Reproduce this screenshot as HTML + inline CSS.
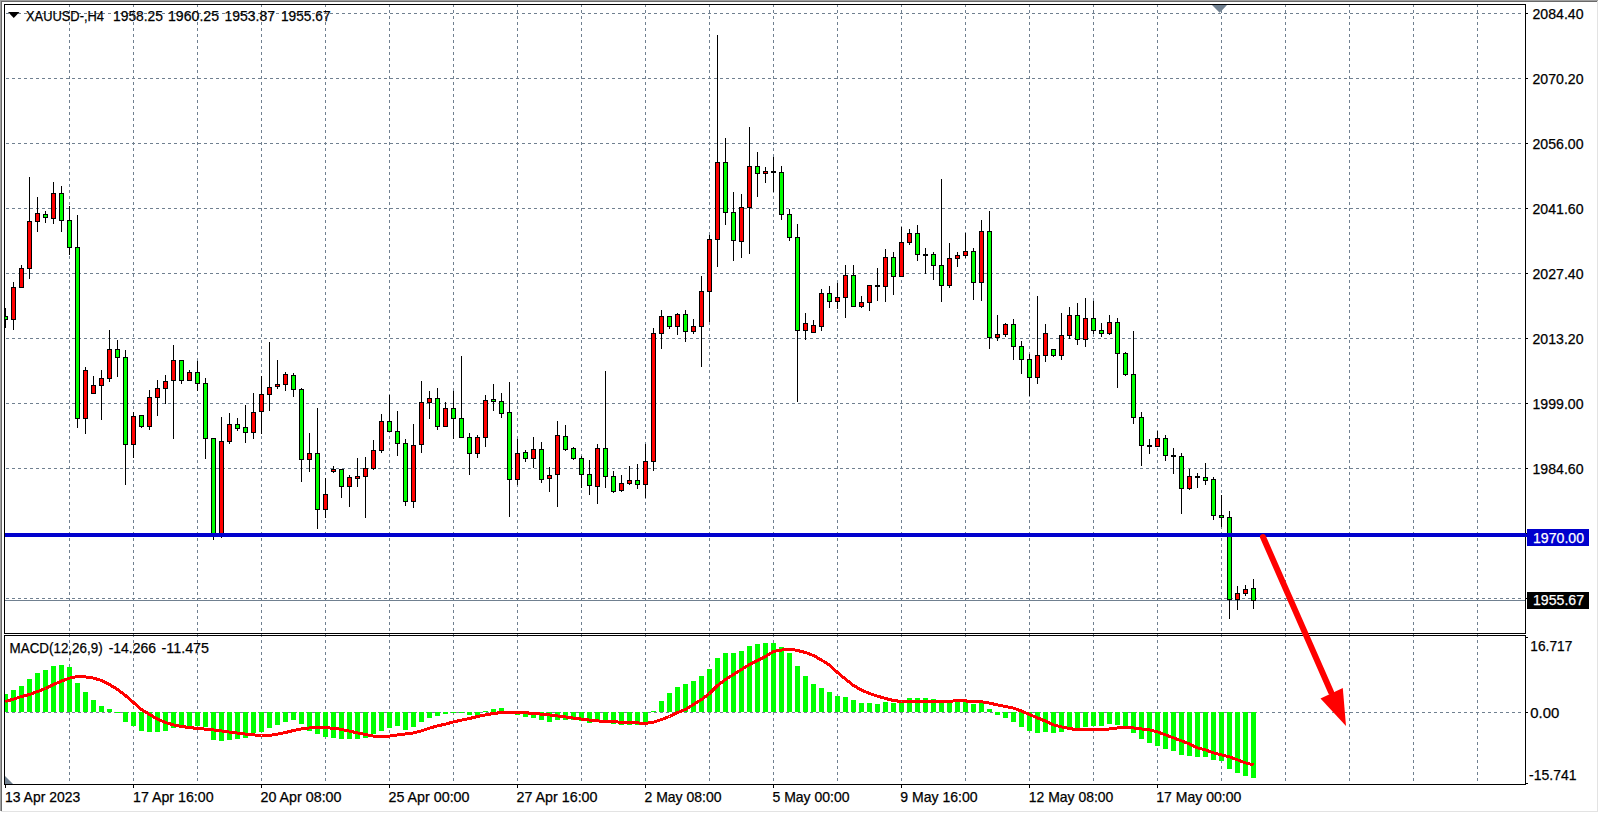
<!DOCTYPE html><html><head><meta charset="utf-8"><style>html,body{margin:0;padding:0;background:#fff;overflow:hidden;width:1599px;height:813px}svg{display:block}text{font-family:"Liberation Sans",sans-serif;font-size:14.5px;fill:#000;stroke:#000;stroke-width:0.25px}</style></head><body>
<svg width="1599" height="813" viewBox="0 0 1599 813">
<rect x="0" y="0" width="1599" height="813" fill="#fff"/>
<g shape-rendering="crispEdges">
<rect x="0" y="0" width="1598" height="1" fill="#a0a0a0"/>
<rect x="0" y="0" width="1" height="811" fill="#a0a0a0"/>
<rect x="1" y="1" width="1596" height="1" fill="#696969"/>
<rect x="1" y="1" width="1" height="810" fill="#696969"/>
<rect x="1597" y="1" width="1" height="811" fill="#e3e3e3"/>
<rect x="1" y="811" width="1597" height="1" fill="#e3e3e3"/>
</g>
<g stroke="#708090" stroke-width="1" stroke-dasharray="3 3" shape-rendering="crispEdges" fill="none">
<line x1="6" y1="13.5" x2="1521" y2="13.5"/>
<line x1="6" y1="78.5" x2="1521" y2="78.5"/>
<line x1="6" y1="143.5" x2="1521" y2="143.5"/>
<line x1="6" y1="208.5" x2="1521" y2="208.5"/>
<line x1="6" y1="273.5" x2="1521" y2="273.5"/>
<line x1="6" y1="338.5" x2="1521" y2="338.5"/>
<line x1="6" y1="403.5" x2="1521" y2="403.5"/>
<line x1="6" y1="468.5" x2="1521" y2="468.5"/>
<line x1="6" y1="533.5" x2="1521" y2="533.5"/>
<line x1="6" y1="598.5" x2="1521" y2="598.5"/>
<line x1="6" y1="712.5" x2="1521" y2="712.5"/>
<line x1="69.5" y1="4" x2="69.5" y2="633"/>
<line x1="69.5" y1="634" x2="69.5" y2="784"/>
<line x1="133.5" y1="4" x2="133.5" y2="633"/>
<line x1="133.5" y1="634" x2="133.5" y2="784"/>
<line x1="197.5" y1="4" x2="197.5" y2="633"/>
<line x1="197.5" y1="634" x2="197.5" y2="784"/>
<line x1="261.5" y1="4" x2="261.5" y2="633"/>
<line x1="261.5" y1="634" x2="261.5" y2="784"/>
<line x1="325.5" y1="4" x2="325.5" y2="633"/>
<line x1="325.5" y1="634" x2="325.5" y2="784"/>
<line x1="389.5" y1="4" x2="389.5" y2="633"/>
<line x1="389.5" y1="634" x2="389.5" y2="784"/>
<line x1="453.5" y1="4" x2="453.5" y2="633"/>
<line x1="453.5" y1="634" x2="453.5" y2="784"/>
<line x1="517.5" y1="4" x2="517.5" y2="633"/>
<line x1="517.5" y1="634" x2="517.5" y2="784"/>
<line x1="581.5" y1="4" x2="581.5" y2="633"/>
<line x1="581.5" y1="634" x2="581.5" y2="784"/>
<line x1="645.5" y1="4" x2="645.5" y2="633"/>
<line x1="645.5" y1="634" x2="645.5" y2="784"/>
<line x1="709.5" y1="4" x2="709.5" y2="633"/>
<line x1="709.5" y1="634" x2="709.5" y2="784"/>
<line x1="773.5" y1="4" x2="773.5" y2="633"/>
<line x1="773.5" y1="634" x2="773.5" y2="784"/>
<line x1="837.5" y1="4" x2="837.5" y2="633"/>
<line x1="837.5" y1="634" x2="837.5" y2="784"/>
<line x1="901.5" y1="4" x2="901.5" y2="633"/>
<line x1="901.5" y1="634" x2="901.5" y2="784"/>
<line x1="965.5" y1="4" x2="965.5" y2="633"/>
<line x1="965.5" y1="634" x2="965.5" y2="784"/>
<line x1="1029.5" y1="4" x2="1029.5" y2="633"/>
<line x1="1029.5" y1="634" x2="1029.5" y2="784"/>
<line x1="1093.5" y1="4" x2="1093.5" y2="633"/>
<line x1="1093.5" y1="634" x2="1093.5" y2="784"/>
<line x1="1157.5" y1="4" x2="1157.5" y2="633"/>
<line x1="1157.5" y1="634" x2="1157.5" y2="784"/>
<line x1="1221.5" y1="4" x2="1221.5" y2="633"/>
<line x1="1221.5" y1="634" x2="1221.5" y2="784"/>
<line x1="1285.5" y1="4" x2="1285.5" y2="633"/>
<line x1="1285.5" y1="634" x2="1285.5" y2="784"/>
<line x1="1349.5" y1="4" x2="1349.5" y2="633"/>
<line x1="1349.5" y1="634" x2="1349.5" y2="784"/>
<line x1="1413.5" y1="4" x2="1413.5" y2="633"/>
<line x1="1413.5" y1="634" x2="1413.5" y2="784"/>
<line x1="1477.5" y1="4" x2="1477.5" y2="633"/>
<line x1="1477.5" y1="634" x2="1477.5" y2="784"/>
</g>
<rect x="5" y="600" width="1520" height="1" fill="#708090" shape-rendering="crispEdges"/>
<defs><clipPath id="cm"><rect x="5" y="5" width="1520" height="628"/></clipPath><clipPath id="cd"><rect x="5" y="636" width="1520" height="148"/></clipPath></defs>
<g shape-rendering="crispEdges" clip-path="url(#cm)">
<rect x="5" y="308" width="1" height="20" fill="#000"/>
<rect x="3" y="316" width="5" height="4" fill="#000"/>
<rect x="4" y="317" width="3" height="2" fill="#00ff00"/>
<rect x="13" y="282" width="1" height="48" fill="#000"/>
<rect x="11" y="287" width="5" height="33" fill="#000"/>
<rect x="12" y="288" width="3" height="31" fill="#ff0000"/>
<rect x="21" y="265" width="1" height="23" fill="#000"/>
<rect x="19" y="268" width="5" height="20" fill="#000"/>
<rect x="20" y="269" width="3" height="18" fill="#ff0000"/>
<rect x="29" y="177" width="1" height="102" fill="#000"/>
<rect x="27" y="221" width="5" height="48" fill="#000"/>
<rect x="28" y="222" width="3" height="46" fill="#ff0000"/>
<rect x="37" y="197" width="1" height="35" fill="#000"/>
<rect x="35" y="213" width="5" height="9" fill="#000"/>
<rect x="36" y="214" width="3" height="7" fill="#ff0000"/>
<rect x="45" y="211" width="1" height="12" fill="#000"/>
<rect x="43" y="214" width="5" height="4" fill="#000"/>
<rect x="44" y="215" width="3" height="2" fill="#00ff00"/>
<rect x="53" y="182" width="1" height="42" fill="#000"/>
<rect x="51" y="193" width="5" height="26" fill="#000"/>
<rect x="52" y="194" width="3" height="24" fill="#ff0000"/>
<rect x="61" y="186" width="1" height="46" fill="#000"/>
<rect x="59" y="193" width="5" height="28" fill="#000"/>
<rect x="60" y="194" width="3" height="26" fill="#00ff00"/>
<rect x="69" y="206" width="1" height="49" fill="#000"/>
<rect x="67" y="220" width="5" height="28" fill="#000"/>
<rect x="68" y="221" width="3" height="26" fill="#00ff00"/>
<rect x="77" y="215" width="1" height="213" fill="#000"/>
<rect x="75" y="247" width="5" height="172" fill="#000"/>
<rect x="76" y="248" width="3" height="170" fill="#00ff00"/>
<rect x="85" y="367" width="1" height="67" fill="#000"/>
<rect x="83" y="370" width="5" height="49" fill="#000"/>
<rect x="84" y="371" width="3" height="47" fill="#ff0000"/>
<rect x="93" y="376" width="1" height="18" fill="#000"/>
<rect x="91" y="385" width="5" height="9" fill="#000"/>
<rect x="92" y="386" width="3" height="7" fill="#ff0000"/>
<rect x="101" y="370" width="1" height="50" fill="#000"/>
<rect x="99" y="378" width="5" height="8" fill="#000"/>
<rect x="100" y="379" width="3" height="6" fill="#ff0000"/>
<rect x="109" y="330" width="1" height="52" fill="#000"/>
<rect x="107" y="349" width="5" height="30" fill="#000"/>
<rect x="108" y="350" width="3" height="28" fill="#ff0000"/>
<rect x="117" y="340" width="1" height="37" fill="#000"/>
<rect x="115" y="349" width="5" height="9" fill="#000"/>
<rect x="116" y="350" width="3" height="7" fill="#00ff00"/>
<rect x="125" y="350" width="1" height="135" fill="#000"/>
<rect x="123" y="357" width="5" height="88" fill="#000"/>
<rect x="124" y="358" width="3" height="86" fill="#00ff00"/>
<rect x="133" y="412" width="1" height="46" fill="#000"/>
<rect x="131" y="416" width="5" height="29" fill="#000"/>
<rect x="132" y="417" width="3" height="27" fill="#ff0000"/>
<rect x="141" y="415" width="1" height="13" fill="#000"/>
<rect x="139" y="415" width="5" height="12" fill="#000"/>
<rect x="140" y="416" width="3" height="10" fill="#00ff00"/>
<rect x="149" y="390" width="1" height="40" fill="#000"/>
<rect x="147" y="397" width="5" height="30" fill="#000"/>
<rect x="148" y="398" width="3" height="28" fill="#ff0000"/>
<rect x="157" y="380" width="1" height="36" fill="#000"/>
<rect x="155" y="388" width="5" height="10" fill="#000"/>
<rect x="156" y="389" width="3" height="8" fill="#ff0000"/>
<rect x="165" y="375" width="1" height="29" fill="#000"/>
<rect x="163" y="381" width="5" height="8" fill="#000"/>
<rect x="164" y="382" width="3" height="6" fill="#ff0000"/>
<rect x="173" y="345" width="1" height="94" fill="#000"/>
<rect x="171" y="360" width="5" height="21" fill="#000"/>
<rect x="172" y="361" width="3" height="19" fill="#ff0000"/>
<rect x="181" y="360" width="1" height="24" fill="#000"/>
<rect x="179" y="360" width="5" height="21" fill="#000"/>
<rect x="180" y="361" width="3" height="19" fill="#00ff00"/>
<rect x="189" y="370" width="1" height="11" fill="#000"/>
<rect x="187" y="372" width="5" height="9" fill="#000"/>
<rect x="188" y="373" width="3" height="7" fill="#ff0000"/>
<rect x="197" y="361" width="1" height="30" fill="#000"/>
<rect x="195" y="372" width="5" height="12" fill="#000"/>
<rect x="196" y="373" width="3" height="10" fill="#00ff00"/>
<rect x="205" y="378" width="1" height="81" fill="#000"/>
<rect x="203" y="383" width="5" height="56" fill="#000"/>
<rect x="204" y="384" width="3" height="54" fill="#00ff00"/>
<rect x="213" y="438" width="1" height="102" fill="#000"/>
<rect x="211" y="438" width="5" height="99" fill="#000"/>
<rect x="212" y="439" width="3" height="97" fill="#00ff00"/>
<rect x="221" y="417" width="1" height="121" fill="#000"/>
<rect x="219" y="441" width="5" height="96" fill="#000"/>
<rect x="220" y="442" width="3" height="94" fill="#ff0000"/>
<rect x="229" y="413" width="1" height="31" fill="#000"/>
<rect x="227" y="424" width="5" height="18" fill="#000"/>
<rect x="228" y="425" width="3" height="16" fill="#ff0000"/>
<rect x="237" y="418" width="1" height="13" fill="#000"/>
<rect x="235" y="424" width="5" height="5" fill="#000"/>
<rect x="236" y="425" width="3" height="3" fill="#00ff00"/>
<rect x="245" y="405" width="1" height="38" fill="#000"/>
<rect x="243" y="427" width="5" height="6" fill="#000"/>
<rect x="244" y="428" width="3" height="4" fill="#00ff00"/>
<rect x="253" y="393" width="1" height="46" fill="#000"/>
<rect x="251" y="412" width="5" height="21" fill="#000"/>
<rect x="252" y="413" width="3" height="19" fill="#ff0000"/>
<rect x="261" y="376" width="1" height="58" fill="#000"/>
<rect x="259" y="394" width="5" height="18" fill="#000"/>
<rect x="260" y="395" width="3" height="16" fill="#ff0000"/>
<rect x="269" y="342" width="1" height="69" fill="#000"/>
<rect x="267" y="387" width="5" height="8" fill="#000"/>
<rect x="268" y="388" width="3" height="6" fill="#ff0000"/>
<rect x="277" y="360" width="1" height="29" fill="#000"/>
<rect x="275" y="384" width="5" height="3" fill="#000"/>
<rect x="276" y="385" width="3" height="1" fill="#ff0000"/>
<rect x="285" y="372" width="1" height="19" fill="#000"/>
<rect x="283" y="374" width="5" height="11" fill="#000"/>
<rect x="284" y="375" width="3" height="9" fill="#ff0000"/>
<rect x="293" y="373" width="1" height="24" fill="#000"/>
<rect x="291" y="375" width="5" height="15" fill="#000"/>
<rect x="292" y="376" width="3" height="13" fill="#00ff00"/>
<rect x="301" y="388" width="1" height="94" fill="#000"/>
<rect x="299" y="389" width="5" height="71" fill="#000"/>
<rect x="300" y="390" width="3" height="69" fill="#00ff00"/>
<rect x="309" y="433" width="1" height="39" fill="#000"/>
<rect x="307" y="453" width="5" height="7" fill="#000"/>
<rect x="308" y="454" width="3" height="5" fill="#ff0000"/>
<rect x="317" y="408" width="1" height="121" fill="#000"/>
<rect x="315" y="453" width="5" height="57" fill="#000"/>
<rect x="316" y="454" width="3" height="55" fill="#00ff00"/>
<rect x="325" y="478" width="1" height="40" fill="#000"/>
<rect x="323" y="494" width="5" height="16" fill="#000"/>
<rect x="324" y="495" width="3" height="14" fill="#ff0000"/>
<rect x="333" y="466" width="1" height="7" fill="#000"/>
<rect x="331" y="469" width="5" height="3" fill="#000"/>
<rect x="332" y="470" width="3" height="1" fill="#ff0000"/>
<rect x="341" y="469" width="1" height="29" fill="#000"/>
<rect x="339" y="469" width="5" height="18" fill="#000"/>
<rect x="340" y="470" width="3" height="16" fill="#00ff00"/>
<rect x="349" y="475" width="1" height="32" fill="#000"/>
<rect x="347" y="477" width="5" height="10" fill="#000"/>
<rect x="348" y="478" width="3" height="8" fill="#ff0000"/>
<rect x="357" y="458" width="1" height="29" fill="#000"/>
<rect x="355" y="476" width="5" height="3" fill="#000"/>
<rect x="356" y="477" width="3" height="1" fill="#ff0000"/>
<rect x="365" y="457" width="1" height="61" fill="#000"/>
<rect x="363" y="468" width="5" height="9" fill="#000"/>
<rect x="364" y="469" width="3" height="7" fill="#ff0000"/>
<rect x="373" y="440" width="1" height="30" fill="#000"/>
<rect x="371" y="450" width="5" height="19" fill="#000"/>
<rect x="372" y="451" width="3" height="17" fill="#ff0000"/>
<rect x="381" y="414" width="1" height="39" fill="#000"/>
<rect x="379" y="421" width="5" height="30" fill="#000"/>
<rect x="380" y="422" width="3" height="28" fill="#ff0000"/>
<rect x="389" y="395" width="1" height="37" fill="#000"/>
<rect x="387" y="421" width="5" height="11" fill="#000"/>
<rect x="388" y="422" width="3" height="9" fill="#00ff00"/>
<rect x="397" y="411" width="1" height="45" fill="#000"/>
<rect x="395" y="431" width="5" height="13" fill="#000"/>
<rect x="396" y="432" width="3" height="11" fill="#00ff00"/>
<rect x="405" y="439" width="1" height="67" fill="#000"/>
<rect x="403" y="443" width="5" height="59" fill="#000"/>
<rect x="404" y="444" width="3" height="57" fill="#00ff00"/>
<rect x="413" y="424" width="1" height="84" fill="#000"/>
<rect x="411" y="445" width="5" height="57" fill="#000"/>
<rect x="412" y="446" width="3" height="55" fill="#ff0000"/>
<rect x="421" y="381" width="1" height="72" fill="#000"/>
<rect x="419" y="402" width="5" height="43" fill="#000"/>
<rect x="420" y="403" width="3" height="41" fill="#ff0000"/>
<rect x="429" y="391" width="1" height="28" fill="#000"/>
<rect x="427" y="398" width="5" height="5" fill="#000"/>
<rect x="428" y="399" width="3" height="3" fill="#ff0000"/>
<rect x="437" y="388" width="1" height="42" fill="#000"/>
<rect x="435" y="398" width="5" height="29" fill="#000"/>
<rect x="436" y="399" width="3" height="27" fill="#00ff00"/>
<rect x="445" y="402" width="1" height="25" fill="#000"/>
<rect x="443" y="408" width="5" height="19" fill="#000"/>
<rect x="444" y="409" width="3" height="17" fill="#ff0000"/>
<rect x="453" y="391" width="1" height="48" fill="#000"/>
<rect x="451" y="408" width="5" height="11" fill="#000"/>
<rect x="452" y="409" width="3" height="9" fill="#00ff00"/>
<rect x="461" y="356" width="1" height="82" fill="#000"/>
<rect x="459" y="418" width="5" height="20" fill="#000"/>
<rect x="460" y="419" width="3" height="18" fill="#00ff00"/>
<rect x="469" y="433" width="1" height="42" fill="#000"/>
<rect x="467" y="437" width="5" height="17" fill="#000"/>
<rect x="468" y="438" width="3" height="15" fill="#00ff00"/>
<rect x="477" y="435" width="1" height="23" fill="#000"/>
<rect x="475" y="437" width="5" height="17" fill="#000"/>
<rect x="476" y="438" width="3" height="15" fill="#ff0000"/>
<rect x="485" y="395" width="1" height="52" fill="#000"/>
<rect x="483" y="400" width="5" height="38" fill="#000"/>
<rect x="484" y="401" width="3" height="36" fill="#ff0000"/>
<rect x="493" y="384" width="1" height="27" fill="#000"/>
<rect x="491" y="399" width="5" height="3" fill="#000"/>
<rect x="492" y="400" width="3" height="1" fill="#00ff00"/>
<rect x="501" y="393" width="1" height="25" fill="#000"/>
<rect x="499" y="401" width="5" height="13" fill="#000"/>
<rect x="500" y="402" width="3" height="11" fill="#00ff00"/>
<rect x="509" y="382" width="1" height="135" fill="#000"/>
<rect x="507" y="412" width="5" height="68" fill="#000"/>
<rect x="508" y="413" width="3" height="66" fill="#00ff00"/>
<rect x="517" y="439" width="1" height="46" fill="#000"/>
<rect x="515" y="453" width="5" height="27" fill="#000"/>
<rect x="516" y="454" width="3" height="25" fill="#ff0000"/>
<rect x="525" y="450" width="1" height="12" fill="#000"/>
<rect x="523" y="452" width="5" height="7" fill="#000"/>
<rect x="524" y="453" width="3" height="5" fill="#00ff00"/>
<rect x="533" y="437" width="1" height="31" fill="#000"/>
<rect x="531" y="449" width="5" height="10" fill="#000"/>
<rect x="532" y="450" width="3" height="8" fill="#ff0000"/>
<rect x="541" y="442" width="1" height="41" fill="#000"/>
<rect x="539" y="449" width="5" height="31" fill="#000"/>
<rect x="540" y="450" width="3" height="29" fill="#00ff00"/>
<rect x="549" y="467" width="1" height="25" fill="#000"/>
<rect x="547" y="475" width="5" height="4" fill="#000"/>
<rect x="548" y="476" width="3" height="2" fill="#ff0000"/>
<rect x="557" y="421" width="1" height="86" fill="#000"/>
<rect x="555" y="435" width="5" height="40" fill="#000"/>
<rect x="556" y="436" width="3" height="38" fill="#ff0000"/>
<rect x="565" y="425" width="1" height="26" fill="#000"/>
<rect x="563" y="436" width="5" height="14" fill="#000"/>
<rect x="564" y="437" width="3" height="12" fill="#00ff00"/>
<rect x="573" y="447" width="1" height="13" fill="#000"/>
<rect x="571" y="448" width="5" height="11" fill="#000"/>
<rect x="572" y="449" width="3" height="9" fill="#00ff00"/>
<rect x="581" y="456" width="1" height="32" fill="#000"/>
<rect x="579" y="458" width="5" height="17" fill="#000"/>
<rect x="580" y="459" width="3" height="15" fill="#00ff00"/>
<rect x="589" y="460" width="1" height="35" fill="#000"/>
<rect x="587" y="474" width="5" height="12" fill="#000"/>
<rect x="588" y="475" width="3" height="10" fill="#00ff00"/>
<rect x="597" y="444" width="1" height="60" fill="#000"/>
<rect x="595" y="448" width="5" height="39" fill="#000"/>
<rect x="596" y="449" width="3" height="37" fill="#ff0000"/>
<rect x="605" y="371" width="1" height="117" fill="#000"/>
<rect x="603" y="448" width="5" height="29" fill="#000"/>
<rect x="604" y="449" width="3" height="27" fill="#00ff00"/>
<rect x="613" y="471" width="1" height="22" fill="#000"/>
<rect x="611" y="476" width="5" height="16" fill="#000"/>
<rect x="612" y="477" width="3" height="14" fill="#00ff00"/>
<rect x="621" y="475" width="1" height="17" fill="#000"/>
<rect x="619" y="483" width="5" height="8" fill="#000"/>
<rect x="620" y="484" width="3" height="6" fill="#ff0000"/>
<rect x="629" y="466" width="1" height="19" fill="#000"/>
<rect x="627" y="480" width="5" height="4" fill="#000"/>
<rect x="628" y="481" width="3" height="2" fill="#ff0000"/>
<rect x="637" y="464" width="1" height="25" fill="#000"/>
<rect x="635" y="480" width="5" height="5" fill="#000"/>
<rect x="636" y="481" width="3" height="3" fill="#00ff00"/>
<rect x="645" y="444" width="1" height="54" fill="#000"/>
<rect x="643" y="461" width="5" height="24" fill="#000"/>
<rect x="644" y="462" width="3" height="22" fill="#ff0000"/>
<rect x="653" y="328" width="1" height="143" fill="#000"/>
<rect x="651" y="333" width="5" height="129" fill="#000"/>
<rect x="652" y="334" width="3" height="127" fill="#ff0000"/>
<rect x="661" y="310" width="1" height="39" fill="#000"/>
<rect x="659" y="316" width="5" height="18" fill="#000"/>
<rect x="660" y="317" width="3" height="16" fill="#ff0000"/>
<rect x="669" y="316" width="1" height="13" fill="#000"/>
<rect x="667" y="316" width="5" height="11" fill="#000"/>
<rect x="668" y="317" width="3" height="9" fill="#00ff00"/>
<rect x="677" y="313" width="1" height="22" fill="#000"/>
<rect x="675" y="314" width="5" height="13" fill="#000"/>
<rect x="676" y="315" width="3" height="11" fill="#ff0000"/>
<rect x="685" y="310" width="1" height="32" fill="#000"/>
<rect x="683" y="314" width="5" height="18" fill="#000"/>
<rect x="684" y="315" width="3" height="16" fill="#00ff00"/>
<rect x="693" y="319" width="1" height="15" fill="#000"/>
<rect x="691" y="326" width="5" height="6" fill="#000"/>
<rect x="692" y="327" width="3" height="4" fill="#ff0000"/>
<rect x="701" y="276" width="1" height="91" fill="#000"/>
<rect x="699" y="291" width="5" height="36" fill="#000"/>
<rect x="700" y="292" width="3" height="34" fill="#ff0000"/>
<rect x="709" y="235" width="1" height="87" fill="#000"/>
<rect x="707" y="239" width="5" height="53" fill="#000"/>
<rect x="708" y="240" width="3" height="51" fill="#ff0000"/>
<rect x="717" y="35" width="1" height="232" fill="#000"/>
<rect x="715" y="162" width="5" height="78" fill="#000"/>
<rect x="716" y="163" width="3" height="76" fill="#ff0000"/>
<rect x="725" y="138" width="1" height="87" fill="#000"/>
<rect x="723" y="162" width="5" height="51" fill="#000"/>
<rect x="724" y="163" width="3" height="49" fill="#00ff00"/>
<rect x="733" y="192" width="1" height="69" fill="#000"/>
<rect x="731" y="212" width="5" height="29" fill="#000"/>
<rect x="732" y="213" width="3" height="27" fill="#00ff00"/>
<rect x="741" y="194" width="1" height="64" fill="#000"/>
<rect x="739" y="207" width="5" height="35" fill="#000"/>
<rect x="740" y="208" width="3" height="33" fill="#ff0000"/>
<rect x="749" y="127" width="1" height="127" fill="#000"/>
<rect x="747" y="166" width="5" height="42" fill="#000"/>
<rect x="748" y="167" width="3" height="40" fill="#ff0000"/>
<rect x="757" y="152" width="1" height="45" fill="#000"/>
<rect x="755" y="166" width="5" height="8" fill="#000"/>
<rect x="756" y="167" width="3" height="6" fill="#00ff00"/>
<rect x="765" y="167" width="1" height="16" fill="#000"/>
<rect x="763" y="171" width="5" height="3" fill="#000"/>
<rect x="764" y="172" width="3" height="1" fill="#ff0000"/>
<rect x="773" y="157" width="1" height="35" fill="#000"/>
<rect x="771" y="171" width="5" height="2" fill="#000"/>
<rect x="781" y="166" width="1" height="54" fill="#000"/>
<rect x="779" y="172" width="5" height="43" fill="#000"/>
<rect x="780" y="173" width="3" height="41" fill="#00ff00"/>
<rect x="789" y="209" width="1" height="32" fill="#000"/>
<rect x="787" y="214" width="5" height="24" fill="#000"/>
<rect x="788" y="215" width="3" height="22" fill="#00ff00"/>
<rect x="797" y="224" width="1" height="178" fill="#000"/>
<rect x="795" y="237" width="5" height="94" fill="#000"/>
<rect x="796" y="238" width="3" height="92" fill="#00ff00"/>
<rect x="805" y="313" width="1" height="27" fill="#000"/>
<rect x="803" y="323" width="5" height="8" fill="#000"/>
<rect x="804" y="324" width="3" height="6" fill="#ff0000"/>
<rect x="813" y="320" width="1" height="13" fill="#000"/>
<rect x="811" y="325" width="5" height="8" fill="#000"/>
<rect x="812" y="326" width="3" height="6" fill="#ff0000"/>
<rect x="821" y="289" width="1" height="42" fill="#000"/>
<rect x="819" y="293" width="5" height="34" fill="#000"/>
<rect x="820" y="294" width="3" height="32" fill="#ff0000"/>
<rect x="829" y="286" width="1" height="22" fill="#000"/>
<rect x="827" y="293" width="5" height="9" fill="#000"/>
<rect x="828" y="294" width="3" height="7" fill="#00ff00"/>
<rect x="837" y="283" width="1" height="26" fill="#000"/>
<rect x="835" y="297" width="5" height="5" fill="#000"/>
<rect x="836" y="298" width="3" height="3" fill="#ff0000"/>
<rect x="845" y="265" width="1" height="53" fill="#000"/>
<rect x="843" y="275" width="5" height="23" fill="#000"/>
<rect x="844" y="276" width="3" height="21" fill="#ff0000"/>
<rect x="853" y="265" width="1" height="42" fill="#000"/>
<rect x="851" y="275" width="5" height="32" fill="#000"/>
<rect x="852" y="276" width="3" height="30" fill="#00ff00"/>
<rect x="861" y="296" width="1" height="12" fill="#000"/>
<rect x="859" y="302" width="5" height="5" fill="#000"/>
<rect x="860" y="303" width="3" height="3" fill="#ff0000"/>
<rect x="869" y="285" width="1" height="26" fill="#000"/>
<rect x="867" y="285" width="5" height="18" fill="#000"/>
<rect x="868" y="286" width="3" height="16" fill="#ff0000"/>
<rect x="877" y="268" width="1" height="33" fill="#000"/>
<rect x="875" y="285" width="5" height="2" fill="#000"/>
<rect x="885" y="249" width="1" height="53" fill="#000"/>
<rect x="883" y="257" width="5" height="30" fill="#000"/>
<rect x="884" y="258" width="3" height="28" fill="#ff0000"/>
<rect x="893" y="252" width="1" height="43" fill="#000"/>
<rect x="891" y="257" width="5" height="20" fill="#000"/>
<rect x="892" y="258" width="3" height="18" fill="#00ff00"/>
<rect x="901" y="227" width="1" height="50" fill="#000"/>
<rect x="899" y="242" width="5" height="35" fill="#000"/>
<rect x="900" y="243" width="3" height="33" fill="#ff0000"/>
<rect x="909" y="229" width="1" height="16" fill="#000"/>
<rect x="907" y="233" width="5" height="10" fill="#000"/>
<rect x="908" y="234" width="3" height="8" fill="#ff0000"/>
<rect x="917" y="225" width="1" height="36" fill="#000"/>
<rect x="915" y="233" width="5" height="22" fill="#000"/>
<rect x="916" y="234" width="3" height="20" fill="#00ff00"/>
<rect x="925" y="248" width="1" height="26" fill="#000"/>
<rect x="923" y="254" width="5" height="2" fill="#000"/>
<rect x="933" y="252" width="1" height="28" fill="#000"/>
<rect x="931" y="254" width="5" height="12" fill="#000"/>
<rect x="932" y="255" width="3" height="10" fill="#00ff00"/>
<rect x="941" y="179" width="1" height="123" fill="#000"/>
<rect x="939" y="265" width="5" height="21" fill="#000"/>
<rect x="940" y="266" width="3" height="19" fill="#00ff00"/>
<rect x="949" y="243" width="1" height="45" fill="#000"/>
<rect x="947" y="258" width="5" height="28" fill="#000"/>
<rect x="948" y="259" width="3" height="26" fill="#ff0000"/>
<rect x="957" y="252" width="1" height="15" fill="#000"/>
<rect x="955" y="255" width="5" height="4" fill="#000"/>
<rect x="956" y="256" width="3" height="2" fill="#ff0000"/>
<rect x="965" y="233" width="1" height="25" fill="#000"/>
<rect x="963" y="251" width="5" height="5" fill="#000"/>
<rect x="964" y="252" width="3" height="3" fill="#ff0000"/>
<rect x="973" y="248" width="1" height="52" fill="#000"/>
<rect x="971" y="251" width="5" height="32" fill="#000"/>
<rect x="972" y="252" width="3" height="30" fill="#00ff00"/>
<rect x="981" y="220" width="1" height="81" fill="#000"/>
<rect x="979" y="231" width="5" height="52" fill="#000"/>
<rect x="980" y="232" width="3" height="50" fill="#ff0000"/>
<rect x="989" y="211" width="1" height="138" fill="#000"/>
<rect x="987" y="231" width="5" height="107" fill="#000"/>
<rect x="988" y="232" width="3" height="105" fill="#00ff00"/>
<rect x="997" y="315" width="1" height="26" fill="#000"/>
<rect x="995" y="334" width="5" height="4" fill="#000"/>
<rect x="996" y="335" width="3" height="2" fill="#ff0000"/>
<rect x="1005" y="323" width="1" height="14" fill="#000"/>
<rect x="1003" y="324" width="5" height="11" fill="#000"/>
<rect x="1004" y="325" width="3" height="9" fill="#ff0000"/>
<rect x="1013" y="319" width="1" height="41" fill="#000"/>
<rect x="1011" y="324" width="5" height="23" fill="#000"/>
<rect x="1012" y="325" width="3" height="21" fill="#00ff00"/>
<rect x="1021" y="341" width="1" height="33" fill="#000"/>
<rect x="1019" y="346" width="5" height="14" fill="#000"/>
<rect x="1020" y="347" width="3" height="12" fill="#00ff00"/>
<rect x="1029" y="354" width="1" height="42" fill="#000"/>
<rect x="1027" y="359" width="5" height="19" fill="#000"/>
<rect x="1028" y="360" width="3" height="17" fill="#00ff00"/>
<rect x="1037" y="296" width="1" height="88" fill="#000"/>
<rect x="1035" y="355" width="5" height="23" fill="#000"/>
<rect x="1036" y="356" width="3" height="21" fill="#ff0000"/>
<rect x="1045" y="324" width="1" height="38" fill="#000"/>
<rect x="1043" y="333" width="5" height="23" fill="#000"/>
<rect x="1044" y="334" width="3" height="21" fill="#ff0000"/>
<rect x="1053" y="349" width="1" height="8" fill="#000"/>
<rect x="1051" y="349" width="5" height="7" fill="#000"/>
<rect x="1052" y="350" width="3" height="5" fill="#00ff00"/>
<rect x="1061" y="313" width="1" height="47" fill="#000"/>
<rect x="1059" y="335" width="5" height="21" fill="#000"/>
<rect x="1060" y="336" width="3" height="19" fill="#ff0000"/>
<rect x="1069" y="307" width="1" height="32" fill="#000"/>
<rect x="1067" y="315" width="5" height="21" fill="#000"/>
<rect x="1068" y="316" width="3" height="19" fill="#ff0000"/>
<rect x="1077" y="303" width="1" height="42" fill="#000"/>
<rect x="1075" y="315" width="5" height="25" fill="#000"/>
<rect x="1076" y="316" width="3" height="23" fill="#00ff00"/>
<rect x="1085" y="298" width="1" height="49" fill="#000"/>
<rect x="1083" y="318" width="5" height="22" fill="#000"/>
<rect x="1084" y="319" width="3" height="20" fill="#ff0000"/>
<rect x="1093" y="301" width="1" height="33" fill="#000"/>
<rect x="1091" y="318" width="5" height="13" fill="#000"/>
<rect x="1092" y="319" width="3" height="11" fill="#00ff00"/>
<rect x="1101" y="323" width="1" height="14" fill="#000"/>
<rect x="1099" y="330" width="5" height="4" fill="#000"/>
<rect x="1100" y="331" width="3" height="2" fill="#00ff00"/>
<rect x="1109" y="315" width="1" height="20" fill="#000"/>
<rect x="1107" y="322" width="5" height="12" fill="#000"/>
<rect x="1108" y="323" width="3" height="10" fill="#ff0000"/>
<rect x="1117" y="318" width="1" height="70" fill="#000"/>
<rect x="1115" y="322" width="5" height="32" fill="#000"/>
<rect x="1116" y="323" width="3" height="30" fill="#00ff00"/>
<rect x="1125" y="352" width="1" height="24" fill="#000"/>
<rect x="1123" y="353" width="5" height="22" fill="#000"/>
<rect x="1124" y="354" width="3" height="20" fill="#00ff00"/>
<rect x="1133" y="331" width="1" height="93" fill="#000"/>
<rect x="1131" y="374" width="5" height="44" fill="#000"/>
<rect x="1132" y="375" width="3" height="42" fill="#00ff00"/>
<rect x="1141" y="412" width="1" height="54" fill="#000"/>
<rect x="1139" y="417" width="5" height="29" fill="#000"/>
<rect x="1140" y="418" width="3" height="27" fill="#00ff00"/>
<rect x="1149" y="439" width="1" height="15" fill="#000"/>
<rect x="1147" y="445" width="5" height="2" fill="#000"/>
<rect x="1157" y="431" width="1" height="16" fill="#000"/>
<rect x="1155" y="438" width="5" height="9" fill="#000"/>
<rect x="1156" y="439" width="3" height="7" fill="#ff0000"/>
<rect x="1165" y="435" width="1" height="26" fill="#000"/>
<rect x="1163" y="438" width="5" height="18" fill="#000"/>
<rect x="1164" y="439" width="3" height="16" fill="#00ff00"/>
<rect x="1173" y="448" width="1" height="26" fill="#000"/>
<rect x="1171" y="455" width="5" height="2" fill="#000"/>
<rect x="1181" y="453" width="1" height="61" fill="#000"/>
<rect x="1179" y="456" width="5" height="33" fill="#000"/>
<rect x="1180" y="457" width="3" height="31" fill="#00ff00"/>
<rect x="1189" y="469" width="1" height="21" fill="#000"/>
<rect x="1187" y="476" width="5" height="13" fill="#000"/>
<rect x="1188" y="477" width="3" height="11" fill="#ff0000"/>
<rect x="1197" y="473" width="1" height="15" fill="#000"/>
<rect x="1195" y="476" width="5" height="2" fill="#000"/>
<rect x="1205" y="463" width="1" height="22" fill="#000"/>
<rect x="1203" y="477" width="5" height="4" fill="#000"/>
<rect x="1204" y="478" width="3" height="2" fill="#00ff00"/>
<rect x="1213" y="477" width="1" height="43" fill="#000"/>
<rect x="1211" y="479" width="5" height="37" fill="#000"/>
<rect x="1212" y="480" width="3" height="35" fill="#00ff00"/>
<rect x="1221" y="495" width="1" height="32" fill="#000"/>
<rect x="1219" y="515" width="5" height="3" fill="#000"/>
<rect x="1220" y="516" width="3" height="1" fill="#00ff00"/>
<rect x="1229" y="511" width="1" height="108" fill="#000"/>
<rect x="1227" y="517" width="5" height="83" fill="#000"/>
<rect x="1228" y="518" width="3" height="81" fill="#00ff00"/>
<rect x="1237" y="586" width="1" height="24" fill="#000"/>
<rect x="1235" y="593" width="5" height="7" fill="#000"/>
<rect x="1236" y="594" width="3" height="5" fill="#ff0000"/>
<rect x="1245" y="585" width="1" height="11" fill="#000"/>
<rect x="1243" y="589" width="5" height="5" fill="#000"/>
<rect x="1244" y="590" width="3" height="3" fill="#ff0000"/>
<rect x="1253" y="579" width="1" height="30" fill="#000"/>
<rect x="1251" y="588" width="5" height="13" fill="#000"/>
<rect x="1252" y="589" width="3" height="11" fill="#00ff00"/>
</g>
<rect x="5" y="533" width="1522" height="4" fill="#0000cd" shape-rendering="crispEdges"/>
<g shape-rendering="crispEdges" fill="#00ff00">
<rect x="5" y="694" width="3" height="18"/>
<rect x="11" y="690" width="5" height="22"/>
<rect x="19" y="686" width="5" height="26"/>
<rect x="27" y="679" width="5" height="33"/>
<rect x="35" y="673" width="5" height="39"/>
<rect x="43" y="670" width="5" height="42"/>
<rect x="51" y="666" width="5" height="46"/>
<rect x="59" y="665" width="5" height="47"/>
<rect x="67" y="667" width="5" height="45"/>
<rect x="75" y="683" width="5" height="29"/>
<rect x="83" y="692" width="5" height="20"/>
<rect x="91" y="700" width="5" height="12"/>
<rect x="99" y="706" width="5" height="6"/>
<rect x="107" y="709" width="5" height="3"/>
<rect x="115" y="712" width="5" height="1"/>
<rect x="123" y="712" width="5" height="10"/>
<rect x="131" y="712" width="5" height="14"/>
<rect x="139" y="712" width="5" height="19"/>
<rect x="147" y="712" width="5" height="20"/>
<rect x="155" y="712" width="5" height="20"/>
<rect x="163" y="712" width="5" height="19"/>
<rect x="171" y="712" width="5" height="16"/>
<rect x="179" y="712" width="5" height="15"/>
<rect x="187" y="712" width="5" height="14"/>
<rect x="195" y="712" width="5" height="14"/>
<rect x="203" y="712" width="5" height="15"/>
<rect x="211" y="712" width="5" height="28"/>
<rect x="219" y="712" width="5" height="29"/>
<rect x="227" y="712" width="5" height="28"/>
<rect x="235" y="712" width="5" height="27"/>
<rect x="243" y="712" width="5" height="26"/>
<rect x="251" y="712" width="5" height="21"/>
<rect x="259" y="712" width="5" height="20"/>
<rect x="267" y="712" width="5" height="16"/>
<rect x="275" y="712" width="5" height="13"/>
<rect x="283" y="712" width="5" height="10"/>
<rect x="291" y="712" width="5" height="8"/>
<rect x="299" y="712" width="5" height="12"/>
<rect x="307" y="712" width="5" height="19"/>
<rect x="315" y="712" width="5" height="22"/>
<rect x="323" y="712" width="5" height="25"/>
<rect x="331" y="712" width="5" height="26"/>
<rect x="339" y="712" width="5" height="27"/>
<rect x="347" y="712" width="5" height="27"/>
<rect x="355" y="712" width="5" height="27"/>
<rect x="363" y="712" width="5" height="26"/>
<rect x="371" y="712" width="5" height="22"/>
<rect x="379" y="712" width="5" height="19"/>
<rect x="387" y="712" width="5" height="16"/>
<rect x="395" y="712" width="5" height="14"/>
<rect x="403" y="712" width="5" height="18"/>
<rect x="411" y="712" width="5" height="15"/>
<rect x="419" y="712" width="5" height="10"/>
<rect x="427" y="712" width="5" height="6"/>
<rect x="435" y="712" width="5" height="4"/>
<rect x="443" y="712" width="5" height="2"/>
<rect x="451" y="712" width="5" height="1"/>
<rect x="459" y="712" width="5" height="1"/>
<rect x="467" y="712" width="5" height="3"/>
<rect x="475" y="712" width="5" height="3"/>
<rect x="483" y="711" width="5" height="1"/>
<rect x="491" y="709" width="5" height="3"/>
<rect x="499" y="708" width="5" height="4"/>
<rect x="507" y="711" width="5" height="1"/>
<rect x="515" y="712" width="5" height="3"/>
<rect x="523" y="712" width="5" height="5"/>
<rect x="531" y="712" width="5" height="6"/>
<rect x="539" y="712" width="5" height="8"/>
<rect x="547" y="712" width="5" height="10"/>
<rect x="555" y="712" width="5" height="8"/>
<rect x="563" y="712" width="5" height="8"/>
<rect x="571" y="712" width="5" height="8"/>
<rect x="579" y="712" width="5" height="9"/>
<rect x="587" y="712" width="5" height="11"/>
<rect x="595" y="712" width="5" height="10"/>
<rect x="603" y="712" width="5" height="11"/>
<rect x="611" y="712" width="5" height="12"/>
<rect x="619" y="712" width="5" height="13"/>
<rect x="627" y="712" width="5" height="13"/>
<rect x="635" y="712" width="5" height="13"/>
<rect x="643" y="712" width="5" height="10"/>
<rect x="651" y="711" width="5" height="1"/>
<rect x="659" y="701" width="5" height="11"/>
<rect x="667" y="693" width="5" height="19"/>
<rect x="675" y="687" width="5" height="25"/>
<rect x="683" y="684" width="5" height="28"/>
<rect x="691" y="681" width="5" height="31"/>
<rect x="699" y="676" width="5" height="36"/>
<rect x="707" y="669" width="5" height="43"/>
<rect x="715" y="658" width="5" height="54"/>
<rect x="723" y="653" width="5" height="59"/>
<rect x="731" y="653" width="5" height="59"/>
<rect x="739" y="651" width="5" height="61"/>
<rect x="747" y="646" width="5" height="66"/>
<rect x="755" y="644" width="5" height="68"/>
<rect x="763" y="643" width="5" height="69"/>
<rect x="771" y="643" width="5" height="69"/>
<rect x="779" y="647" width="5" height="65"/>
<rect x="787" y="653" width="5" height="59"/>
<rect x="795" y="666" width="5" height="46"/>
<rect x="803" y="676" width="5" height="36"/>
<rect x="811" y="684" width="5" height="28"/>
<rect x="819" y="688" width="5" height="24"/>
<rect x="827" y="692" width="5" height="20"/>
<rect x="835" y="696" width="5" height="16"/>
<rect x="843" y="697" width="5" height="15"/>
<rect x="851" y="700" width="5" height="12"/>
<rect x="859" y="703" width="5" height="9"/>
<rect x="867" y="703" width="5" height="9"/>
<rect x="875" y="704" width="5" height="8"/>
<rect x="883" y="702" width="5" height="10"/>
<rect x="891" y="703" width="5" height="9"/>
<rect x="899" y="702" width="5" height="10"/>
<rect x="907" y="698" width="5" height="14"/>
<rect x="915" y="698" width="5" height="14"/>
<rect x="923" y="698" width="5" height="14"/>
<rect x="931" y="699" width="5" height="13"/>
<rect x="939" y="701" width="5" height="11"/>
<rect x="947" y="702" width="5" height="10"/>
<rect x="955" y="702" width="5" height="10"/>
<rect x="963" y="702" width="5" height="10"/>
<rect x="971" y="704" width="5" height="8"/>
<rect x="979" y="703" width="5" height="9"/>
<rect x="987" y="709" width="5" height="3"/>
<rect x="995" y="712" width="5" height="3"/>
<rect x="1003" y="712" width="5" height="6"/>
<rect x="1011" y="712" width="5" height="10"/>
<rect x="1019" y="712" width="5" height="15"/>
<rect x="1027" y="712" width="5" height="19"/>
<rect x="1035" y="712" width="5" height="21"/>
<rect x="1043" y="712" width="5" height="20"/>
<rect x="1051" y="712" width="5" height="21"/>
<rect x="1059" y="712" width="5" height="20"/>
<rect x="1067" y="712" width="5" height="16"/>
<rect x="1075" y="712" width="5" height="16"/>
<rect x="1083" y="712" width="5" height="15"/>
<rect x="1091" y="712" width="5" height="14"/>
<rect x="1099" y="712" width="5" height="14"/>
<rect x="1107" y="712" width="5" height="12"/>
<rect x="1115" y="712" width="5" height="13"/>
<rect x="1123" y="712" width="5" height="14"/>
<rect x="1131" y="712" width="5" height="21"/>
<rect x="1139" y="712" width="5" height="27"/>
<rect x="1147" y="712" width="5" height="31"/>
<rect x="1155" y="712" width="5" height="34"/>
<rect x="1163" y="712" width="5" height="37"/>
<rect x="1171" y="712" width="5" height="39"/>
<rect x="1179" y="712" width="5" height="43"/>
<rect x="1187" y="712" width="5" height="44"/>
<rect x="1195" y="712" width="5" height="45"/>
<rect x="1203" y="712" width="5" height="45"/>
<rect x="1211" y="712" width="5" height="48"/>
<rect x="1219" y="712" width="5" height="49"/>
<rect x="1227" y="712" width="5" height="57"/>
<rect x="1235" y="712" width="5" height="61"/>
<rect x="1243" y="712" width="5" height="64"/>
<rect x="1251" y="712" width="5" height="66"/>
</g>
<svg x="5" y="636" width="1520" height="148" viewBox="5 636 1520 148" overflow="hidden"><polyline points="5.5,701.5 13.5,699.1 21.5,696.5 29.5,694.5 37.5,691.5 45.5,688.5 53.5,684.5 61.5,681.1 69.5,678.1 77.5,676.5 85.5,676.9 93.5,678.1 101.5,680.5 109.5,684.5 117.5,689.5 125.5,695.5 133.5,702.5 141.5,709.5 149.5,714.5 157.5,719.1 165.5,722.5 173.5,724.9 181.5,726.5 189.5,727.5 197.5,728.5 205.5,729.1 213.5,729.9 221.5,730.9 229.5,732.1 237.5,733.1 245.5,734.1 253.5,734.9 261.5,735.5 269.5,735.5 277.5,734.1 285.5,732.5 293.5,730.5 301.5,728.9 309.5,727.9 317.5,727.9 325.5,727.9 333.5,728.1 341.5,729.5 349.5,731.1 357.5,732.9 365.5,734.5 373.5,736.1 381.5,736.9 389.5,736.1 397.5,734.9 405.5,733.9 413.5,732.9 421.5,730.9 429.5,728.1 437.5,725.9 445.5,724.1 453.5,721.9 461.5,720.1 469.5,718.5 477.5,716.5 485.5,714.9 493.5,713.5 501.5,712.5 509.5,712.5 517.5,712.5 525.5,712.7 533.5,713.5 541.5,714.1 549.5,714.9 557.5,715.9 565.5,716.9 573.5,718.1 581.5,719.1 589.5,720.1 597.5,720.9 605.5,721.5 613.5,721.9 621.5,722.1 629.5,722.9 637.5,722.9 645.5,723.5 653.5,722.1 661.5,719.5 669.5,716.5 677.5,712.5 685.5,709.5 693.5,704.5 701.5,699.5 709.5,693.5 717.5,685.5 725.5,679.5 733.5,674.5 741.5,669.5 749.5,664.5 757.5,660.5 765.5,656.5 773.5,651.5 781.5,650.1 789.5,649.1 797.5,650.5 805.5,652.5 813.5,655.5 821.5,660.1 829.5,665.1 837.5,672.5 845.5,679.1 853.5,685.5 861.5,690.1 869.5,693.5 877.5,696.1 885.5,698.5 893.5,700.5 901.5,701.5 909.5,701.5 917.5,701.5 925.5,701.5 933.5,701.5 941.5,701.5 949.5,701.1 957.5,700.9 965.5,700.9 973.5,701.7 981.5,701.7 989.5,703.1 997.5,704.9 1005.5,706.5 1013.5,708.1 1021.5,711.1 1029.5,714.5 1037.5,717.9 1045.5,721.1 1053.5,724.9 1061.5,726.9 1069.5,728.5 1077.5,729.9 1085.5,729.9 1093.5,729.9 1101.5,729.9 1109.5,728.9 1117.5,727.9 1125.5,727.1 1133.5,727.9 1141.5,728.9 1149.5,729.9 1157.5,731.9 1165.5,734.9 1173.5,737.9 1181.5,740.9 1189.5,743.9 1197.5,747.9 1205.5,749.9 1213.5,752.9 1221.5,754.9 1229.5,756.9 1237.5,759.9 1245.5,762.9 1253.5,764.9" fill="none" stroke="#ff0000" stroke-width="3" stroke-linejoin="round" shape-rendering="crispEdges"/></svg>
<g shape-rendering="crispEdges" fill="#000">
<rect x="4" y="4" width="1522" height="1"/>
<rect x="4" y="633" width="1522" height="1"/>
<rect x="4" y="4" width="1" height="630"/>
<rect x="1525" y="4" width="1" height="630"/>
<rect x="4" y="635" width="1522" height="1"/>
<rect x="4" y="784" width="1522" height="1"/>
<rect x="4" y="635" width="1" height="150"/>
<rect x="1525" y="635" width="1" height="150"/>
<rect x="1526" y="13" width="2" height="1"/>
<rect x="1526" y="78" width="2" height="1"/>
<rect x="1526" y="143" width="2" height="1"/>
<rect x="1526" y="208" width="2" height="1"/>
<rect x="1526" y="273" width="2" height="1"/>
<rect x="1526" y="338" width="2" height="1"/>
<rect x="1526" y="403" width="2" height="1"/>
<rect x="1526" y="468" width="2" height="1"/>
<rect x="1526" y="598" width="2" height="1"/>
<rect x="1526" y="637" width="2" height="1"/>
<rect x="1526" y="712" width="2" height="1"/>
<rect x="1526" y="783" width="2" height="1"/>
<rect x="5" y="785" width="1" height="3"/>
<rect x="133" y="785" width="1" height="3"/>
<rect x="261" y="785" width="1" height="3"/>
<rect x="389" y="785" width="1" height="3"/>
<rect x="517" y="785" width="1" height="3"/>
<rect x="645" y="785" width="1" height="3"/>
<rect x="773" y="785" width="1" height="3"/>
<rect x="901" y="785" width="1" height="3"/>
<rect x="1029" y="785" width="1" height="3"/>
<rect x="1157" y="785" width="1" height="3"/>
</g>
<rect x="1525" y="533" width="2" height="4" fill="#0000cd" shape-rendering="crispEdges"/>
<rect x="1526" y="533" width="1" height="1" fill="#000" shape-rendering="crispEdges"/>
<polygon points="1212,5 1227,5 1219.7,12.8" fill="#708090"/>
<polygon points="5,776 5,784 13,784" fill="#708090"/>
<polygon points="8,12 19.5,12 13.75,18" fill="#000"/>
<g fill="#ff0000" stroke="none">
<line x1="1263" y1="537" x2="1331" y2="692" stroke="#ff0000" stroke-width="6" stroke-linecap="round"/>
<polygon points="1346,726 1320.5,698.5 1342.8,688"/>
</g>
<rect x="1527" y="529" width="62" height="17" fill="#0000cd" shape-rendering="crispEdges"/>
<rect x="1527" y="592" width="62" height="17" fill="#000" shape-rendering="crispEdges"/>
<text x="26" y="21" textLength="78" lengthAdjust="spacingAndGlyphs">XAUUSD-,H4</text>
<text x="113" y="21" textLength="50" lengthAdjust="spacingAndGlyphs">1958.25</text>
<text x="168" y="21" textLength="51" lengthAdjust="spacingAndGlyphs">1960.25</text>
<text x="224.5" y="21" textLength="50.5" lengthAdjust="spacingAndGlyphs">1953.87</text>
<text x="281" y="21" textLength="49.5" lengthAdjust="spacingAndGlyphs">1955.67</text>
<text x="9.6" y="653" textLength="93" lengthAdjust="spacingAndGlyphs">MACD(12,26,9)</text>
<text x="108.7" y="653" textLength="47.3" lengthAdjust="spacingAndGlyphs">-14.266</text>
<text x="161.6" y="653" textLength="47.4" lengthAdjust="spacingAndGlyphs">-11.475</text>
<text x="1532.5" y="19" textLength="51" lengthAdjust="spacingAndGlyphs">2084.40</text>
<text x="1532.5" y="84" textLength="51" lengthAdjust="spacingAndGlyphs">2070.20</text>
<text x="1532.5" y="149" textLength="51" lengthAdjust="spacingAndGlyphs">2056.00</text>
<text x="1532.5" y="214" textLength="51" lengthAdjust="spacingAndGlyphs">2041.60</text>
<text x="1532.5" y="279" textLength="51" lengthAdjust="spacingAndGlyphs">2027.40</text>
<text x="1532.5" y="344" textLength="51" lengthAdjust="spacingAndGlyphs">2013.20</text>
<text x="1532.5" y="409" textLength="51" lengthAdjust="spacingAndGlyphs">1999.00</text>
<text x="1532.5" y="474" textLength="51" lengthAdjust="spacingAndGlyphs">1984.60</text>
<text x="1533" y="543" textLength="51" lengthAdjust="spacingAndGlyphs" style="fill:#fff;stroke:#fff">1970.00</text>
<text x="1533" y="605" textLength="51" lengthAdjust="spacingAndGlyphs" style="fill:#fff;stroke:#fff">1955.67</text>
<text x="1530.3" y="651" textLength="42" lengthAdjust="spacingAndGlyphs">16.717</text>
<text x="1530.3" y="718" textLength="29" lengthAdjust="spacingAndGlyphs">0.00</text>
<text x="1529" y="780" textLength="47.5" lengthAdjust="spacingAndGlyphs">-15.741</text>
<text x="5" y="802" textLength="75.2" lengthAdjust="spacingAndGlyphs">13 Apr 2023</text>
<text x="133" y="802" textLength="80.6" lengthAdjust="spacingAndGlyphs">17 Apr 16:00</text>
<text x="260.5" y="802" textLength="81" lengthAdjust="spacingAndGlyphs">20 Apr 08:00</text>
<text x="388.5" y="802" textLength="81" lengthAdjust="spacingAndGlyphs">25 Apr 00:00</text>
<text x="516.5" y="802" textLength="81" lengthAdjust="spacingAndGlyphs">27 Apr 16:00</text>
<text x="644.5" y="802" textLength="77" lengthAdjust="spacingAndGlyphs">2 May 08:00</text>
<text x="772.5" y="802" textLength="77" lengthAdjust="spacingAndGlyphs">5 May 00:00</text>
<text x="900.3" y="802" textLength="77.3" lengthAdjust="spacingAndGlyphs">9 May 16:00</text>
<text x="1028.8" y="802" textLength="84.5" lengthAdjust="spacingAndGlyphs">12 May 08:00</text>
<text x="1156.3" y="802" textLength="85" lengthAdjust="spacingAndGlyphs">17 May 00:00</text>
</svg></body></html>
